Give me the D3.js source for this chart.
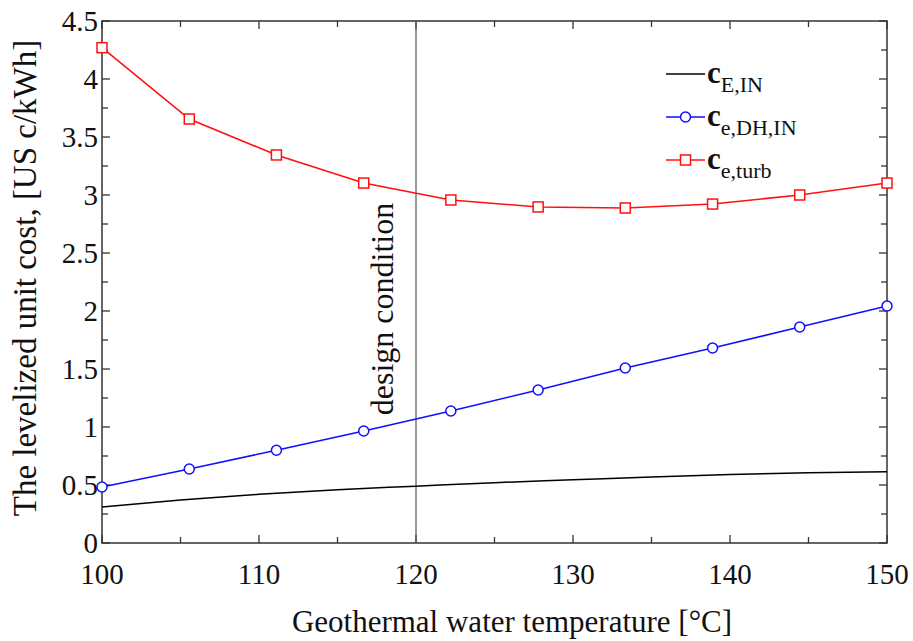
<!DOCTYPE html>
<html>
<head>
<meta charset="utf-8">
<script src="https://cdn.jsdelivr.net/npm/d3@7"></script>
<style>
  html, body { margin: 0; padding: 0; background: #fff; }
  svg { display: block; }
  svg text { font-family: "Liberation Serif", "Times New Roman", serif; }
</style>
</head>
<body>
<svg id="chart" width="913" height="641"></svg>
<script>
// Geothermal water temperature, °C (marker positions)
const temps = [100, 105.56, 111.11, 116.67, 122.22, 127.78, 133.33, 138.89, 144.44, 150];
// Levelized unit cost of electricity from turbine, US c/kWh
const ceTurb = [4.27, 3.655, 3.345, 3.103, 2.957, 2.897, 2.888, 2.922, 3.0, 3.103];
// Levelized unit cost, district heating, US c/kWh
const ceDH = [0.483, 0.638, 0.80, 0.966, 1.138, 1.319, 1.509, 1.681, 1.862, 2.043];
// Smooth curve c_E,IN
const tempsE = [100, 105, 110, 115, 120, 125, 130, 135, 140, 145, 150];
const cE = [0.31, 0.37, 0.42, 0.46, 0.49, 0.52, 0.545, 0.57, 0.59, 0.605, 0.615];

const xTicks = [100, 110, 120, 130, 140, 150];
const yTicks = [0, 0.5, 1, 1.5, 2, 2.5, 3, 3.5, 4, 4.5];
const designTemp = 120;

const svg = d3.select("#chart");
const pLeft = 102, pRight = 887, pTop = 21, pBottom = 543;
const x = d3.scaleLinear().domain([100, 150]).range([pLeft, pRight]);
const y = d3.scaleLinear().domain([0, 4.5]).range([pBottom, pTop]);
const axisColor = "#333";
const textColor = "#111";
const serif = "'Liberation Serif', 'Times New Roman', serif";

// Frame
svg.append("rect").attr("x", pLeft).attr("y", pTop)
  .attr("width", pRight - pLeft).attr("height", pBottom - pTop)
  .attr("fill", "none").attr("stroke", axisColor).attr("stroke-width", 1.5);

// Inward ticks on all four sides
const xMinor = d3.range(100, 150.1, 5);
const yMinor = d3.range(0, 4.51, 0.25);
function isMajorX(v) { return Math.abs(v % 10) < 1e-6; }
function isMajorY(v) { return Math.abs((v * 2) - Math.round(v * 2)) < 1e-6; }
const tickG = svg.append("g").attr("stroke", axisColor).attr("stroke-width", 1.3);
xMinor.forEach(v => {
  const len = isMajorX(v) ? 8 : 6;
  tickG.append("line").attr("x1", x(v)).attr("x2", x(v)).attr("y1", pBottom).attr("y2", pBottom - len);
  tickG.append("line").attr("x1", x(v)).attr("x2", x(v)).attr("y1", pTop).attr("y2", pTop + len);
});
yMinor.forEach(v => {
  const len = isMajorY(v) ? 8 : 6;
  tickG.append("line").attr("y1", y(v)).attr("y2", y(v)).attr("x1", pLeft).attr("x2", pLeft + len);
  tickG.append("line").attr("y1", y(v)).attr("y2", y(v)).attr("x1", pRight).attr("x2", pRight - len);
});

// Tick labels
svg.append("g").selectAll("text").data(xTicks).join("text")
  .attr("x", d => x(d)).attr("y", 584)
  .attr("text-anchor", "middle").attr("font-family", serif).attr("font-size", 29).attr("fill", textColor)
  .text(d => d);
svg.append("g").selectAll("text").data(yTicks).join("text")
  .attr("x", pLeft - 4).attr("y", d => y(d) + 9.5)
  .attr("text-anchor", "end").attr("font-family", serif).attr("font-size", 29).attr("fill", textColor)
  .text(d => d);

// Axis titles
svg.append("text").attr("x", 512).attr("y", 632)
  .attr("text-anchor", "middle").attr("font-family", serif).attr("font-size", 31).attr("fill", textColor)
  .text("Geothermal water temperature [°C]");
svg.append("text")
  .attr("transform", `translate(36, 278) rotate(-90)`)
  .attr("text-anchor", "middle").attr("font-family", serif).attr("font-size", 33).attr("fill", textColor)
  .text("The levelized unit cost, [US c/kWh]");

// Design condition marker
svg.append("line").attr("x1", x(designTemp)).attr("x2", x(designTemp))
  .attr("y1", pTop).attr("y2", pBottom)
  .attr("stroke", "#555").attr("stroke-width", 1.2);
svg.append("text")
  .attr("transform", `translate(393, 309) rotate(-90)`)
  .attr("text-anchor", "middle").attr("font-family", serif).attr("font-size", 32).attr("fill", textColor)
  .text("design condition");

// Curves
const line = d3.line().x(d => x(d[0])).y(d => y(d[1]));
const smooth = d3.line().x(d => x(d[0])).y(d => y(d[1])).curve(d3.curveMonotoneX);

svg.append("path").datum(tempsE.map((t, i) => [t, cE[i]]))
  .attr("d", smooth).attr("fill", "none").attr("stroke", "#000").attr("stroke-width", 1.5);

svg.append("path").datum(temps.map((t, i) => [t, ceDH[i]]))
  .attr("d", line).attr("fill", "none").attr("stroke", "#1010ff").attr("stroke-width", 1.6);
svg.append("g").selectAll("circle").data(temps.map((t, i) => [t, ceDH[i]])).join("circle")
  .attr("cx", d => x(d[0])).attr("cy", d => y(d[1])).attr("r", 5)
  .attr("fill", "#fff").attr("stroke", "#1010ff").attr("stroke-width", 1.5);

svg.append("path").datum(temps.map((t, i) => [t, ceTurb[i]]))
  .attr("d", line).attr("fill", "none").attr("stroke", "#ff1010").attr("stroke-width", 1.6);
svg.append("g").selectAll("rect").data(temps.map((t, i) => [t, ceTurb[i]])).join("rect")
  .attr("x", d => x(d[0]) - 5).attr("y", d => y(d[1]) - 5).attr("width", 10).attr("height", 10)
  .attr("fill", "#fff").attr("stroke", "#ff1010").attr("stroke-width", 1.5);

// Legend
const legendRows = [
  { sub: "E,IN", color: "#000", marker: null, y: 74 },
  { sub: "e,DH,IN", color: "#1010ff", marker: "circle", y: 117 },
  { sub: "e,turb", color: "#ff1010", marker: "square", y: 160 }
];
const lg = svg.append("g");
legendRows.forEach(r => {
  lg.append("line").attr("x1", 666).attr("x2", 705).attr("y1", r.y).attr("y2", r.y)
    .attr("stroke", r.color).attr("stroke-width", 1.5);
  if (r.marker === "circle") {
    lg.append("circle").attr("cx", 685.5).attr("cy", r.y).attr("r", 5)
      .attr("fill", "#fff").attr("stroke", r.color).attr("stroke-width", 1.5);
  } else if (r.marker === "square") {
    lg.append("rect").attr("x", 680.5).attr("y", r.y - 5).attr("width", 10).attr("height", 10)
      .attr("fill", "#fff").attr("stroke", r.color).attr("stroke-width", 1.5);
  }
  const t = lg.append("text").attr("x", 707).attr("y", r.y + 9)
    .attr("font-family", serif).attr("fill", textColor);
  t.append("tspan").attr("font-size", 31).attr("font-weight", "bold").text("c");
  t.append("tspan").attr("font-size", 22).attr("dy", 9).text(r.sub);
});
</script>
</body>
</html>
